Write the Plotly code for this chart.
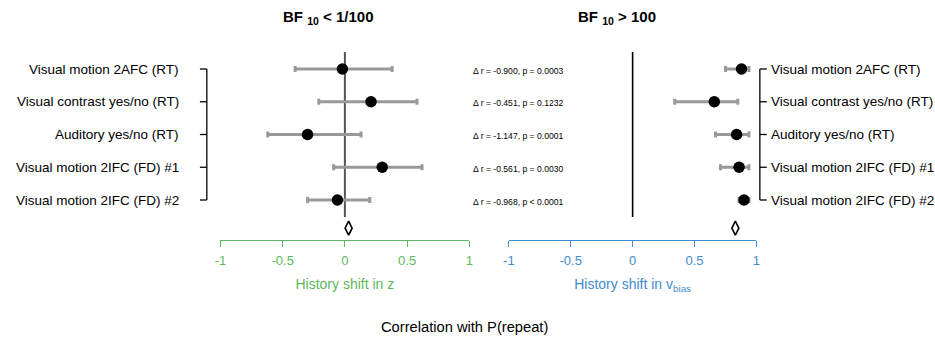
import plotly.graph_objects as go

W, H = 935, 342

datasets = ["Visual motion 2AFC (RT)", "Visual contrast yes/no (RT)", "Auditory yes/no (RT)",
            "Visual motion 2IFC (FD) #1", "Visual motion 2IFC (FD) #2"]
rows = [0, 1, 2, 3, 4]

z_r = [-0.02, 0.21, -0.30, 0.30, -0.06]
z_lo = [-0.40, -0.21, -0.62, -0.09, -0.30]
z_hi = [0.38, 0.58, 0.13, 0.62, 0.20]

v_r = [0.88, 0.66, 0.84, 0.86, 0.90]
v_lo = [0.75, 0.34, 0.67, 0.71, 0.86]
v_hi = [0.94, 0.85, 0.94, 0.94, 0.94]

z_mean = 0.03
v_mean = 0.83

delta_text = ["\u0394 r = -0.900, p = 0.0003", "\u0394 r = -0.451, p = 0.1232",
              "\u0394 r = -1.147, p = 0.0001", "\u0394 r = -0.561, p = 0.0030",
              "\u0394 r = -0.968, p < 0.0001"]

tick_vals = [-1, -0.5, 0, 0.5, 1]
tick_text = ["-1", "-0.5", "0", "0.5", "1"]

GREEN = "#5cb85c"
BLUE = "#3f8ccf"
GRAY = "#999999"
FONT = "Liberation Sans, Arial, Helvetica, sans-serif"

top_px, bot_px = 52, 240
ROW0, ROWSTEP = 69, 32.75


def py2paper(py):
    return (bot_px - py) / (bot_px - top_px)


fig = go.Figure()


def add_panel(xref, r, lo, hi, mean):
    fig.add_trace(go.Scatter(
        x=r, y=rows, xaxis=xref, yaxis="y", mode="markers",
        marker=dict(color="black", size=11.5),
        error_x=dict(type="data", symmetric=False,
                     array=[h - v for h, v in zip(hi, r)],
                     arrayminus=[v - l for l, v in zip(lo, r)],
                     color=GRAY, thickness=3, width=3),
        cliponaxis=False, showlegend=False, hoverinfo="skip"))
    fig.add_trace(go.Scatter(
        x=[mean], y=[4.86], xaxis=xref, yaxis="y", mode="markers",
        marker=dict(symbol="diamond-tall-open", color="black", size=10,
                    line=dict(color="black", width=1.6)),
        cliponaxis=False, showlegend=False, hoverinfo="skip"))


add_panel("x", z_r, z_lo, z_hi, z_mean)
add_panel("x2", v_r, v_lo, v_hi, v_mean)

shapes = []
shapes.append(dict(type="line", xref="x", yref="y", x0=0, x1=0, y0=-0.52, y1=4.52,
                   line=dict(color="#555555", width=2), layer="below"))
shapes.append(dict(type="line", xref="x2", yref="y", x0=0, x1=0, y0=-0.52, y1=4.52,
                   line=dict(color="black", width=1.6), layer="below"))
bl = 203 / W
br = 762 / W
shapes.append(dict(type="line", xref="paper", yref="y", x0=bl, x1=bl, y0=0, y1=4,
                   line=dict(color="black", width=1.3)))
shapes.append(dict(type="line", xref="paper", yref="y", x0=br, x1=br, y0=0, y1=4,
                   line=dict(color="black", width=1.3)))
for rr in rows:
    shapes.append(dict(type="line", xref="paper", yref="y", x0=bl - 7 / W, x1=bl, y0=rr, y1=rr,
                       line=dict(color="black", width=1.3)))
    shapes.append(dict(type="line", xref="paper", yref="y", x0=br, x1=br + 7 / W, y0=rr, y1=rr,
                       line=dict(color="black", width=1.3)))

annotations = []
for rr, name in zip(rows, datasets):
    annotations.append(dict(xref="paper", yref="y", x=177 / W, y=rr, text=name,
                            xanchor="right", yanchor="middle", showarrow=False,
                            font=dict(size=13.5, color="black", family=FONT)))
    annotations.append(dict(xref="paper", yref="y", x=771 / W, y=rr, text=name,
                            xanchor="left", yanchor="middle", showarrow=False,
                            font=dict(size=13.5, color="black", family=FONT)))
for rr, t in zip(rows, delta_text):
    annotations.append(dict(xref="paper", yref="y", x=470 / W, y=rr + 0.05, text=t,
                            xanchor="left", yanchor="middle", showarrow=False,
                            font=dict(size=8.6, color="black", family=FONT)))

annotations.append(dict(xref="paper", yref="paper", x=326 / W, y=py2paper(17),
                        text="<b>BF <sub>10</sub> &lt; 1/100</b>", xanchor="center", yanchor="middle",
                        showarrow=False, font=dict(size=15, color="black", family=FONT)))
annotations.append(dict(xref="paper", yref="paper", x=618 / W, y=py2paper(17),
                        text="<b>BF <sub>10</sub> &gt; 100</b>", xanchor="center", yanchor="middle",
                        showarrow=False, font=dict(size=15, color="black", family=FONT)))
annotations.append(dict(xref="paper", yref="paper", x=463 / W, y=py2paper(327),
                        text="Correlation with P(repeat)", xanchor="center", yanchor="middle",
                        showarrow=False, font=dict(size=14.7, color="black", family=FONT)))

common = dict(range=[-1, 1], tickvals=tick_vals, ticktext=tick_text,
              showgrid=False, zeroline=False, showline=True, linewidth=1.3,
              ticks="outside", ticklen=6, tickwidth=1.3, ticklabelstandoff=2,
              fixedrange=True)

fig.update_layout(
    width=W, height=H,
    margin=dict(l=0, r=0, t=top_px, b=H - bot_px),
    paper_bgcolor="white", plot_bgcolor="white",
    xaxis=dict(domain=[216.8 / W, 468.3 / W], anchor="y", linecolor=GREEN, tickcolor=GREEN,
               title=dict(text="History shift in z", font=dict(size=14, color=GREEN, family=FONT), standoff=12),
               tickfont=dict(size=13, family=FONT, color=GREEN), **common),
    xaxis2=dict(domain=[508.3 / W, 758.5 / W], anchor="y", linecolor=BLUE, tickcolor=BLUE,
                title=dict(text="History shift in v<sub>bias</sub>", font=dict(size=14, color=BLUE, family=FONT), standoff=12),
                tickfont=dict(size=13, family=FONT, color=BLUE), **common),
    yaxis=dict(range=[(bot_px - ROW0) / ROWSTEP, -(ROW0 - top_px) / ROWSTEP], visible=False,
               domain=[0, 1], fixedrange=True),
    shapes=shapes,
    annotations=annotations,
)

fig.write_html("out.html", config={"displayModeBar": False},
               post_script="document.body.style.margin='0px';document.body.style.overflow='hidden';")
